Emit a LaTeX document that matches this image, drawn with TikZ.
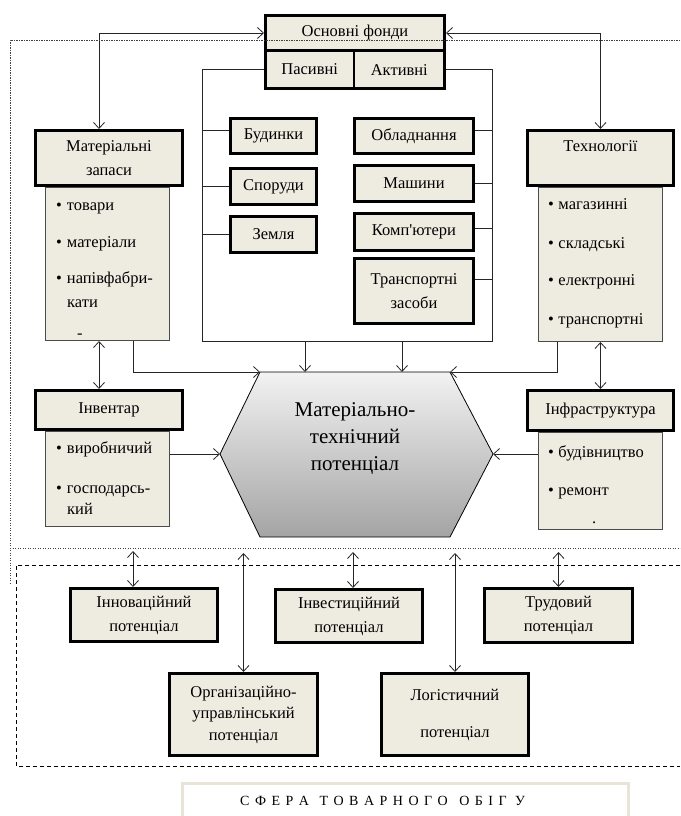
\documentclass[tikz,border=0pt]{standalone}
\usepackage{fontspec}
\setmainfont{Liberation Serif}
\usetikzlibrary{arrows.meta}
\definecolor{boxfill}{HTML}{EEECE1}
\definecolor{sferaline}{HTML}{E8E5D8}
\definecolor{hextop}{HTML}{F2F2F2}
\definecolor{hexbot}{HTML}{A4A4A4}
\newcommand\fsz{\fontsize{16.5}{24}\selectfont}
\makeatletter
\newcommand\spacedword[1]{\@tfor\sp@ch:=#1\do{\sp@ch\kern5.5pt}}
\makeatother
\begin{document}
\begin{tikzpicture}[x=1pt,y=-1pt,
  hdr/.style={draw=black,line width=2.8pt,fill=boxfill,inner sep=0pt,align=center,font=\fsz},
  bodybox/.style={draw=black!70,line width=0.8pt,fill=boxfill,inner sep=0pt},
  item/.style={anchor=base west,inner sep=0pt,font=\fsz},
  conn/.style={line width=0.8pt,draw=black!85},
  myb/.tip={Straight Barb[length=6pt,width=11pt,line width=0.8pt]},
  arr/.style={conn,-myb},
  darr/.style={conn,myb-myb},
  dotline/.style={line width=0.8pt,draw=black!75,dash pattern=on 1.3pt off 1.2pt},
  dashline/.style={line width=0.8pt,draw=black,dash pattern=on 4pt off 3pt},
]
\useasboundingbox (0,0) rectangle (680,816);

% ---- Основні фонди ----
\node[hdr,minimum width=179.2pt,minimum height=35.2pt] (fondy) at (355,33) {Основні фонди};
\node[hdr,minimum width=88.6pt,minimum height=38pt] (pas) at (309.7,69.6) {Пасивні};
\node[hdr,minimum width=90.6pt,minimum height=38pt] (akt) at (399.3,69.6) {Активні};

% ---- passive / active items ----
\node[hdr,minimum width=86.2pt,minimum height=35.2pt] (budynky) at (273.5,136) {Будинки};
\node[hdr,minimum width=86.2pt,minimum height=36.2pt] (sporudy) at (273.5,186.5) {Споруди};
\node[hdr,minimum width=86.2pt,minimum height=36.2pt] (zemlia) at (273.5,234.5) {Земля};
\node[hdr,minimum width=119.2pt,minimum height=35.2pt] (obl) at (414,136) {Обладнання};
\node[hdr,minimum width=119.2pt,minimum height=36.2pt] (mash) at (414,183.5) {Машини};
\node[hdr,minimum width=119.2pt,minimum height=37.2pt] (komp) at (414,232) {Комп\textquotesingle ютери};
\node[hdr,minimum width=119.2pt,minimum height=65.2pt] (trans) at (414,291) {Транспортні\\засоби};

% ---- Матеріальні запаси ----
\node[bodybox,minimum width=124.2pt,minimum height=153.2pt] (mzb) at (107.5,264) {};
\node[hdr,minimum width=147.2pt,minimum height=55.2pt] (mz) at (109,158) {Матеріальні\\запаси};
\node[item] (mz1) at (56,210) {•\hspace{5pt}товари};
\node[item] (mz2) at (56,247) {•\hspace{5pt}матеріали};
\node[item] (mz3) at (56,283) {•\hspace{5pt}напівфабри-};
\node[item] (mz4) at (67,307) {кати};
\node[item] (mz5) at (77,338) {-};

% ---- Технології ----
\node[bodybox,minimum width=124.2pt,minimum height=154.2pt] (techb) at (600.5,264.5) {};
\node[hdr,minimum width=146.2pt,minimum height=55.2pt] (tech) at (600.5,158) {Технології\\\mbox{}};
\node[item] (t1) at (548,209) {•\hspace{4.5pt}магазинні};
\node[item] (t2) at (548,248) {•\hspace{4.5pt}складські};
\node[item] (t3) at (548,285) {•\hspace{4.5pt}електронні};
\node[item] (t4) at (548,324) {•\hspace{4.5pt}транспортні};

% ---- Інвентар ----
\node[bodybox,minimum width=124.2pt,minimum height=95.2pt] (invb) at (107.5,479) {};
\node[hdr,minimum width=147.2pt,minimum height=39.2pt] (inv) at (109,410) {Інвентар};
\node[item] (i1) at (56,453) {•\hspace{5pt}виробничий};
\node[item] (i2) at (56,493) {•\hspace{5pt}господарсь-};
\node[item] (i3) at (67,514) {кий};

% ---- Інфраструктура ----
\node[bodybox,minimum width=124.2pt,minimum height=97.2pt] (infrab) at (600.5,481) {};
\node[hdr,minimum width=146.2pt,minimum height=40.2pt] (infra) at (600.5,410.5) {Інфраструктура};
\node[item] (f1) at (548,457) {•\hspace{4.5pt}будівництво};
\node[item] (f2) at (548,495) {•\hspace{4.5pt}ремонт};
\node[item] (f3) at (592,523) {.};

% ---- hexagon ----
\coordinate (hTL) at (260,372);
\coordinate (hTR) at (450,372);
\coordinate (hR) at (493,454);
\coordinate (hBR) at (450,537);
\coordinate (hBL) at (260,537);
\coordinate (hL) at (220,454);
\draw[line width=0.8pt,top color=hextop,bottom color=hexbot] (hTL) -- (hTR) -- (hR) -- (hBR) -- (hBL) -- (hL) -- cycle;
\node[font=\fontsize{21}{27}\selectfont,align=center] (hexT) at (355,439) {Матеріально-\\технічний\\потенціал};

% ---- connectors in upper part ----
\coordinate (pL) at (202,341);
\coordinate (aR) at (492,341);
\draw[conn] (pas.west) -| (pL) -- (aR) |- (akt.east);
\draw[conn] ([yshift=6pt]budynky.west) -- ([yshift=6pt]budynky.west -| pL);
\draw[conn] (sporudy.west) -- (sporudy.west -| pL);
\draw[conn] (zemlia.west) -- (zemlia.west -| pL);
\draw[conn] ([yshift=6pt]obl.east) -- ([yshift=6pt]obl.east -| aR);
\draw[conn] (mash.east) -- (mash.east -| aR);
\draw[conn] ([yshift=4pt]komp.east) -- ([yshift=4pt]komp.east -| aR);
\draw[conn] ([yshift=12pt]trans.east) -- ([yshift=12pt]trans.east -| aR);
\coordinate (d1) at (305,341);
\coordinate (d2) at (402,341);
\draw[arr] (d1) -- (d1 |- hTL);
\draw[arr] (d2) -- (d2 |- hTL);

\coordinate (xa) at (99,0);
\coordinate (xb) at (133,0);
\coordinate (xc) at (557,0);
\draw[darr] (mz.north -| xa) |- (fondy.west);
\draw[darr] (tech.north) |- (fondy.east);
\draw[darr] (mzb.south -| xa) -- (inv.north -| xa);
\draw[arr] (mzb.south -| xb) |- (hTL);
\draw[arr] (techb.south -| xc) |- (hTR);
\draw[darr] (techb.south) -- (infra.north);
\draw[arr] (invb.east |- hL) -- (hL);
\draw[arr] (infrab.west |- hR) -- (hR);

% ---- lower potentials ----
\node[hdr,minimum width=147.2pt,minimum height=53.2pt] (innov) at (144,615) {Інноваційний\\потенціал};
\node[hdr,minimum width=147.2pt,minimum height=53.2pt] (invest) at (349,616) {Інвестиційний\\потенціал};
\node[hdr,minimum width=148.2pt,minimum height=54.2pt] (trud) at (558.5,615.5) {Трудовий\\потенціал};
\node[hdr,minimum width=148.2pt,minimum height=82.2pt,font=\fontsize{16.5}{21.5}\selectfont] (org) at (243.5,714.5) {Організаційно-\\управлінський\\потенціал};
\node[hdr,minimum width=147.2pt,minimum height=82.2pt] (log) at (455,714.5) {Логістичний\\[13pt]потенціал};

\coordinate (b1) at (133,551);
\coordinate (b2) at (243.5,553);
\coordinate (b3) at (353,552);
\coordinate (b4) at (455,553);
\coordinate (b5) at (558.5,552);
\draw[darr] (b1) -- (b1 |- innov.north);
\draw[darr] (b2) -- (org.north);
\draw[darr] (b3) -- (b3 |- invest.north);
\draw[darr] (b4) -- (log.north);
\draw[darr] (b5) -- (trud.north);

% ---- frames ----
\draw[dotline] (680,40) -- (10,40) -- (10,583);
\draw[dotline] (10,548) -- (680,548);
\draw[dashline] (680,565) -- (16,565) -- (16,766) -- (680,766);

% ---- сфера ----
\node[draw=sferaline,line width=3pt,fill=white,minimum width=446pt,minimum height=45pt,inner sep=0pt] (sfera) at (405.5,806) {};
\node[anchor=base west,inner sep=0pt,font=\fontsize{14}{16}\selectfont] (sferaT) at (240,805) {\spacedword{СФЕРА}\hspace{5pt}\spacedword{ТОВАРНОГО}\hspace{6pt}\spacedword{ОБІГ}\hspace{3pt}У};
\end{tikzpicture}
\end{document}
